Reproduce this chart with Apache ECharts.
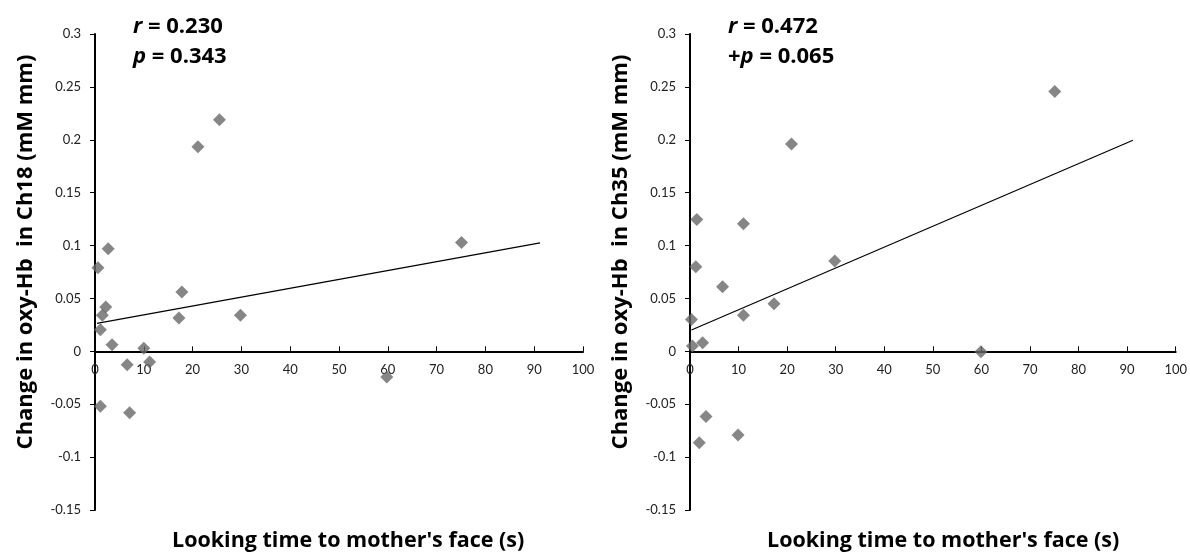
<!DOCTYPE html>
<html><head><meta charset="utf-8">
<script src="https://cdn.jsdelivr.net/npm/echarts@6/dist/echarts.min.js"></script>
<style>html,body{margin:0;padding:0;background:#fff}#c{width:1190px;height:554px}</style>
</head><body><div id="c"></div>
<script>
const leftX = [0.6, 2.7, 17.8, 2.2, 1.5, 17.2, 29.8, 1.1, 3.5, 10.0, 6.6, 11.2, 1.1, 7.1, 21.1, 25.5, 75.1, 59.8];
const leftY = [0.079, 0.097, 0.056, 0.042, 0.034, 0.0315, 0.034, 0.0205, 0.0063, 0.003, -0.0126, -0.010, -0.052, -0.058, 0.1935, 0.219, 0.103, -0.0243];
const rightX = [20.9, 75.1, 59.9, 1.4, 11.0, 1.2, 6.7, 29.8, 17.3, 11.0, 0.3, 0.5, 2.6, 3.3, 1.9, 9.9];
const rightY = [0.196, 0.2456, -0.0005, 0.1247, 0.1205, 0.080, 0.061, 0.0855, 0.045, 0.034, 0.030, 0.005, 0.008, -0.0615, -0.0865, -0.079];
const leftTrendX = [0.4, 91.2];
const leftTrendY = [0.0265, 0.1026];
const rightTrendX = [0.3, 91.2];
const rightTrendY = [0.0202, 0.1995];
const xTicks = [0, 10, 20, 30, 40, 50, 60, 70, 80, 90, 100];
const yTicks = [-0.15, -0.1, -0.05, 0, 0.05, 0.1, 0.15, 0.2, 0.25, 0.3];
const xTitle = "Looking time to mother's face (s)";
const yTitleLeft = "Change in oxy-Hb  in Ch18 (mM mm)";
const yTitleRight = "Change in oxy-Hb  in Ch35 (mM mm)";
const statsLeft = ["0.230", "0.343"];
const statsRight = ["0.472", "0.065"];

const FONT = 'Lato';
const BFONT = 'Open Sans';
const GRID_TOP = 34, GRID_H = 476;
const yMin = yTicks[0], yMax = yTicks[yTicks.length - 1];
// x axis sits at y = 0: shift it up from the grid bottom by the scale's own proportion
const zeroOffset = -GRID_H * (0 - yMin) / (yMax - yMin);
const zip = (a, b) => a.map((v, i) => [v, b[i]]);

function xAxis(gi) {
  return {
    type: 'value', gridIndex: gi, min: xTicks[0], max: xTicks[xTicks.length - 1], interval: 10,
    offset: zeroOffset,
    splitLine: { show: false },
    axisLine: { onZero: false, lineStyle: { color: '#000', width: 2 } },
    axisTick: { inside: true, length: 5, lineStyle: { color: '#000', width: 1 } },
    axisLabel: { color: '#222', fontFamily: FONT, fontSize: 13, margin: 12 }
  };
}
function yAxis(gi) {
  return {
    type: 'value', gridIndex: gi, min: yMin, max: yMax, interval: 0.05,
    splitLine: { show: false },
    axisLine: { show: true, onZero: false, lineStyle: { color: '#000', width: 2 } },
    axisTick: { show: true, inside: false, length: 5, lineStyle: { color: '#000', width: 1 } },
    axisLabel: { color: '#222', fontFamily: FONT, fontSize: 13, margin: 14,
      formatter: v => String(+(+v).toFixed(2)) }
  };
}
function scatter(i, xs, ys) {
  return { type: 'scatter', xAxisIndex: i, yAxisIndex: i, data: zip(xs, ys), symbol: 'diamond', symbolSize: 13,
    itemStyle: { color: '#686868' }, z: 3, silent: true };
}
function trend(i, xs, ys) {
  return { type: 'line', xAxisIndex: i, yAxisIndex: i, data: zip(xs, ys), symbol: 'none',
    lineStyle: { color: '#000', width: 1.2 }, z: 2, silent: true };
}
const rich = {
  i: { fontFamily: BFONT, fontWeight: 'bold', fontStyle: 'italic', fontSize: 22, color: '#000', lineHeight: 30 },
  b: { fontFamily: BFONT, fontWeight: 'bold', fontSize: 22, color: '#000', lineHeight: 30 }
};
function stat(left, vals, plus) {
  return {
    left: left, top: 12, padding: 0,
    text: '{i|r}{b| = ' + vals[0] + '}\n' + (plus ? '{b|+}' : '') + '{i|p}{b| = ' + vals[1] + '}',
    textStyle: { rich: rich, lineHeight: 30, fontSize: 22 }
  };
}
function xName(left) {
  return { left: left, top: 530, padding: 0, text: xTitle,
    textStyle: { fontFamily: BFONT, fontWeight: 'bold', fontSize: 21.5, color: '#000' } };
}
function yName(x, text) {
  return { type: 'text', x: x, y: 252, rotation: Math.PI / 2, silent: true,
    style: { text: text, font: 'bold 22px "Open Sans"', fill: '#000', align: 'center', verticalAlign: 'middle' } };
}

const chart = echarts.init(document.getElementById('c'));
chart.setOption({
  animation: false,
  backgroundColor: '#fff',
  grid: [
    { left: 95, top: GRID_TOP, width: 488, height: GRID_H },
    { left: 690, top: GRID_TOP, width: 488, height: GRID_H }
  ],
  xAxis: [xAxis(0), xAxis(1)],
  yAxis: [yAxis(0), yAxis(1)],
  title: [stat(133, statsLeft, false), stat(728, statsRight, true), xName(172), xName(767)],
  graphic: [yName(26, yTitleLeft), yName(621, yTitleRight)],
  series: [
    trend(0, leftTrendX, leftTrendY), scatter(0, leftX, leftY),
    trend(1, rightTrendX, rightTrendY), scatter(1, rightX, rightY)
  ]
});
</script></body></html>
